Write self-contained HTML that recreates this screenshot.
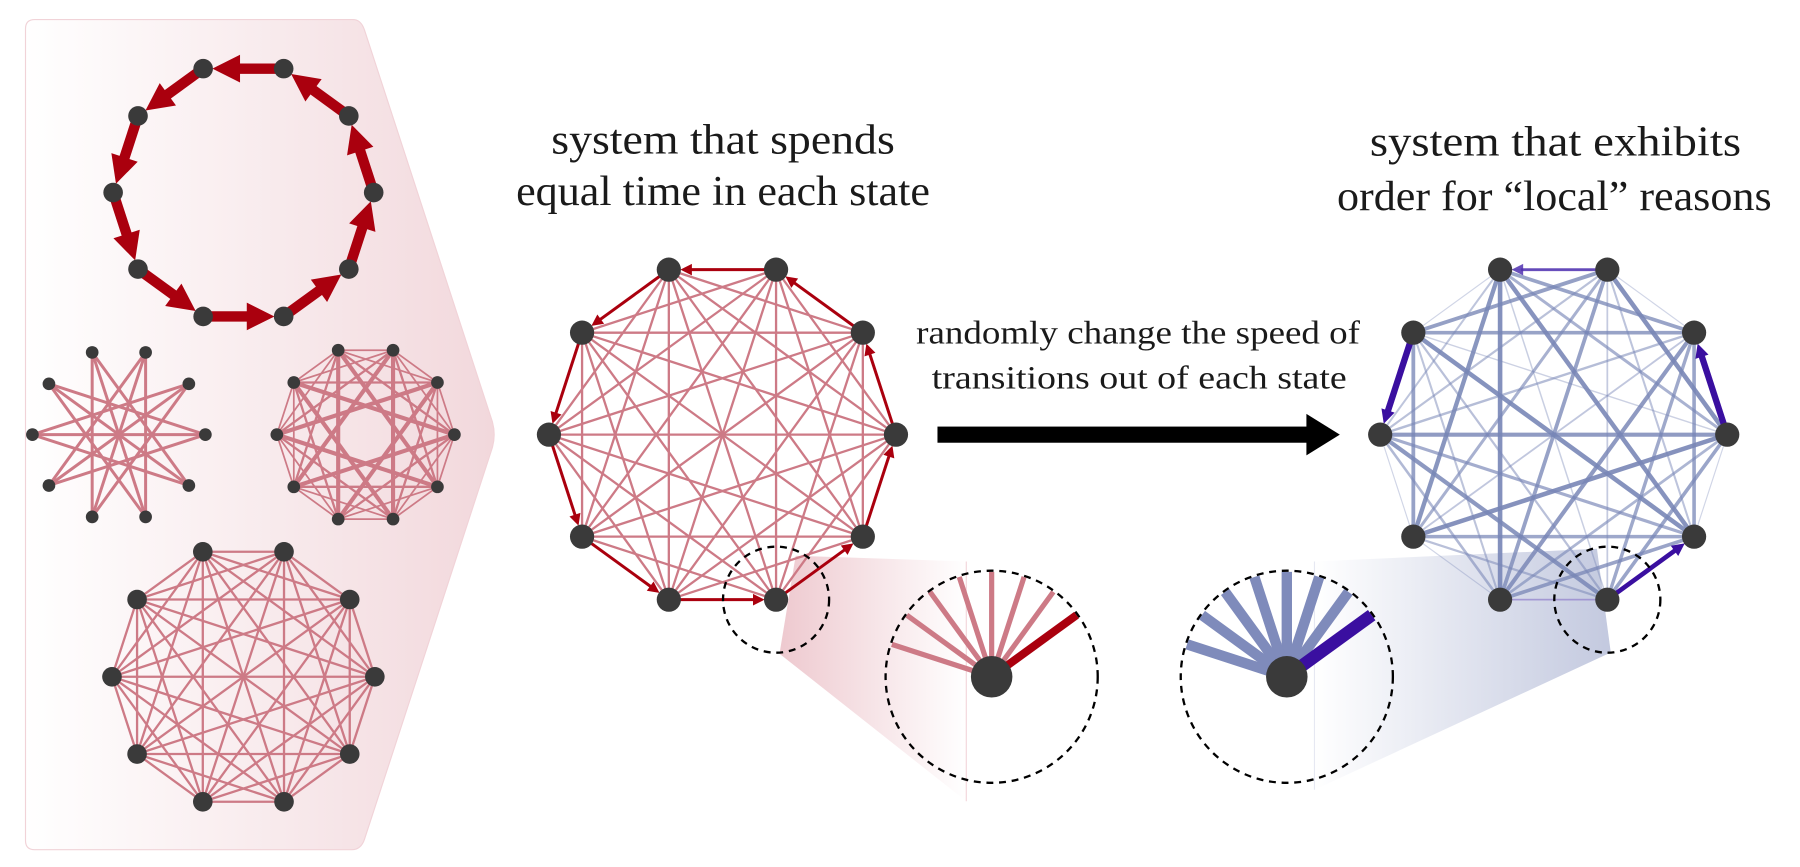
<!DOCTYPE html>
<html><head><meta charset="utf-8">
<style>
html,body{margin:0;padding:0;background:#fff;overflow:hidden;width:1800px;height:867px;}
svg{display:block;}
text{font-family:"Liberation Serif",serif;fill:#1a1a1a;}
</style></head>
<body>
<svg id="s" width="1800" height="867" viewBox="0 0 1561 752" xmlns="http://www.w3.org/2000/svg">
<defs>
<linearGradient id="pg" x1="0" x2="1" y1="0" y2="0">
<stop offset="0" stop-color="#ffffff"/><stop offset="1" stop-color="#f2d8dc"/>
</linearGradient>
<linearGradient id="fp" x1="0" x2="1" y1="0" y2="0">
<stop offset="0" stop-color="#eec9cf"/><stop offset="1" stop-color="#ffffff"/>
</linearGradient>
<linearGradient id="fb" x1="0" x2="1" y1="0" y2="0">
<stop offset="0" stop-color="#ffffff"/><stop offset="1" stop-color="#c3c9df"/>
</linearGradient>
</defs>
<path d="M30,17 H306 Q313,17 316,26 L427,366 Q430,377 427,388 L316,728 Q313,737 305,737 H30 Q22,737 22,729 V25 Q22,17 30,17 Z" fill="url(#pg)" stroke="#f1d3d8" stroke-width="1"/>
<polygon points="690,482 838,487 838,695 676,567" fill="url(#fp)"/>
<line x1="838" y1="487" x2="838" y2="695" stroke="#f3d6db" stroke-width="1"/>
<polygon points="1140,487 1385,476 1397,566 1140,685" fill="url(#fb)"/>
<line x1="1140" y1="487" x2="1140" y2="685" stroke="#e6e8f2" stroke-width="1"/>
<g id="g"></g>
<text x="627" y="133" font-size="37" text-anchor="middle" textLength="298" lengthAdjust="spacingAndGlyphs">system that spends</text>
<text x="627" y="178" font-size="37" text-anchor="middle" textLength="359" lengthAdjust="spacingAndGlyphs">equal time in each state</text>
<text x="1349" y="135" font-size="37" text-anchor="middle" textLength="322" lengthAdjust="spacingAndGlyphs">system that exhibits</text>
<text x="1348" y="182" font-size="37" text-anchor="middle" textLength="377" lengthAdjust="spacingAndGlyphs">order for “local” reasons</text>
<text x="987" y="298" font-size="28" text-anchor="middle" textLength="385" lengthAdjust="spacingAndGlyphs">randomly change the speed of</text>
<text x="988" y="337" font-size="28" text-anchor="middle" textLength="360" lengthAdjust="spacingAndGlyphs">transitions out of each state</text>
<rect x="813" y="370" width="325" height="14" fill="#000"/>
<polygon points="1133,359 1162,377 1133,395" fill="#000"/>
</svg>
<script>
(function(){
var g=document.getElementById('g');var NS='http://www.w3.org/2000/svg';
function el(t,a){var e=document.createElementNS(NS,t);for(var k in a)e.setAttribute(k,a[k]);g.appendChild(e);return e;}
function deca(cx,cy,R){var p=[];for(var k=0;k<10;k++){var a=(18+36*k)*Math.PI/180;p.push([cx+R*Math.sin(a),cy-R*Math.cos(a)]);}return p;}
function line(a,b,c,w,o){el('line',{x1:a[0],y1:a[1],x2:b[0],y2:b[1],stroke:c,'stroke-width':w,'stroke-opacity':o==null?1:o});}
function arrow(a,b,r,c,w,hl,hw,o){var dx=b[0]-a[0],dy=b[1]-a[1],L=Math.sqrt(dx*dx+dy*dy),ux=dx/L,uy=dy/L;
 var tip=[b[0]-ux*r,b[1]-uy*r],base=[tip[0]-ux*hl,tip[1]-uy*hl];
 line([a[0]+ux*r*0.5,a[1]+uy*r*0.5],[base[0]+ux*2,base[1]+uy*2],c,w,o);
 el('polygon',{points:tip[0]+','+tip[1]+' '+(base[0]-uy*hw)+','+(base[1]+ux*hw)+' '+(base[0]+uy*hw)+','+(base[1]-ux*hw),fill:c,'fill-opacity':o==null?1:o});}
function nodes(p,r){p.forEach(function(q){el('circle',{cx:q[0],cy:q[1],r:r,fill:'#3a3a3a'});});}
var PK='#cd7a86',RD='#aa000e';
var t=deca(211,167,113);
for(var k=0;k<10;k++)arrow(t[k],t[(k+9)%10],8,RD,9,24,12);
nodes(t,8.5);
var s=deca(103,377,75);
for(var i=0;i<10;i++)for(var j=i+1;j<10;j++){var d=Math.min(j-i,10-(j-i));if(d==4||d==5)line(s[i],s[j],PK,2.6);}
nodes(s,5.5);
var h=deca(317,377,77);
for(var i=0;i<10;i++)for(var j=i+1;j<10;j++){var d=Math.min(j-i,10-(j-i));
 if(d==1)line(h[i],h[j],PK,1.5);else if(d==2)line(h[i],h[j],PK,1.5);else if(d==3)line(h[i],h[j],PK,2);else if(d==4)line(h[i],h[j],PK,3.6);}
nodes(h,5.5);
var b=deca(211,587,114);
for(var i=0;i<10;i++)for(var j=i+1;j<10;j++)line(b[i],b[j],PK,2);
nodes(b,8.5);
var m=deca(626.5,377,150.5);
for(var i=0;i<10;i++)for(var j=i+1;j<10;j++){var d=Math.min(j-i,10-(j-i));if(d>1)line(m[i],m[j],PK,2);}
for(var k=0;k<10;k++)arrow(m[k],m[(k+9)%10],10,RD,2.6,10,5);
nodes(m,10.5);
var r=deca(1347.5,377,150.5);var seed=7;
function rnd(){seed=(seed*16807)%2147483647;return seed/2147483647;}
for(var i=0;i<10;i++)for(var j=i+1;j<10;j++){var d=Math.min(j-i,10-(j-i));
 var u=rnd();var w=0.8+u*3.4;var o=0.3+u*0.65;
 if(d==1){w=1;o=0.35;}
 line(r[i],r[j],'#7886b6',w,o);}
arrow(r[0],r[9],10,'#5030b0',2.5,10,5,0.85);
arrow(r[8],r[7],10,'#3a0fa0',5.5,12,6);
arrow(r[2],r[1],10,'#3a0fa0',5.5,12,6);
arrow(r[4],r[3],10,'#3a0fa0',4,11,5.5);
line(r[5],r[4],'#9a88d0',1.5,0.7);
nodes(r,10.5);
el('circle',{cx:m[4][0],cy:m[4][1],r:46,fill:'none',stroke:'#000','stroke-width':2,'stroke-dasharray':'6,5'});
el('circle',{cx:r[4][0],cy:r[4][1],r:46,fill:'none',stroke:'#000','stroke-width':2,'stroke-dasharray':'6,5'});
function zoom(cx,cy,src,P,col,hc,w,hw,k0){
 for(var j=0;j<10;j++){if(j==src||j==5)continue;var dx=P[j][0]-P[src][0],dy=P[j][1]-P[src][1],L=Math.sqrt(dx*dx+dy*dy);
  var end=[cx+dx/L*91,cy+dy/L*91];
  if(j==k0)line([cx,cy],end,hc,hw);else line([cx,cy],end,col,w);}
 el('circle',{cx:cx,cy:cy,r:92,fill:'none',stroke:'#000','stroke-width':2,'stroke-dasharray':'6,5'});
 el('circle',{cx:cx,cy:cy,r:18,fill:'#3a3a3a'});}
zoom(860,587,4,m,'#cd7a86',RD,4.5,7,3);
zoom(1116,587,4,r,'#7f8bbb','#3a0fa0',9,11,3);
})();
</script>
</body></html>
